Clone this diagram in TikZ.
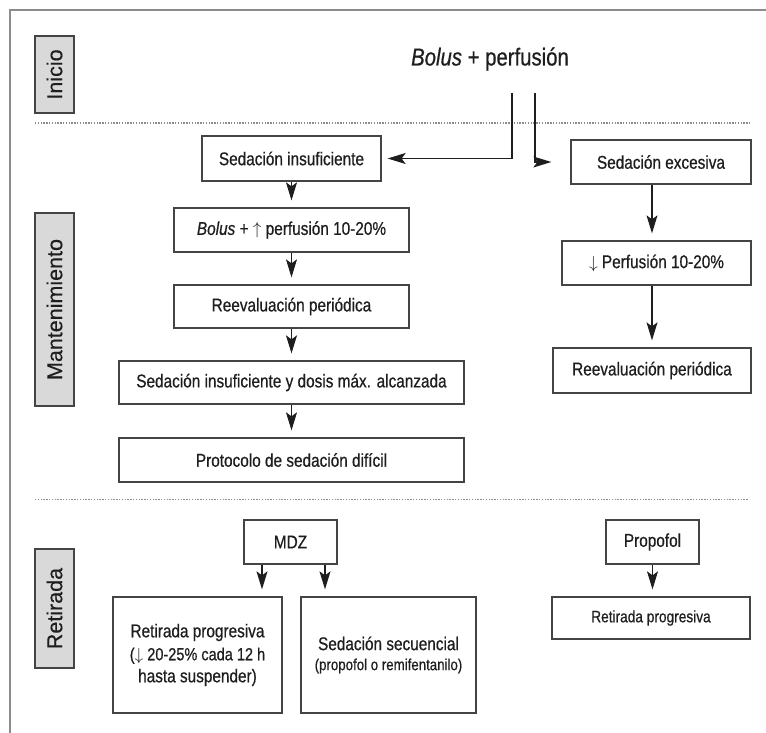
\documentclass[tikz,border=0pt]{standalone}
\usepackage{fontspec}
\setmainfont{Liberation Sans}[FakeStretch=0.83,FakeBold=0.6]
\newfontfamily\tagfont{Liberation Sans}[FakeBold=0.4]
\usetikzlibrary{arrows.meta}
\definecolor{txt}{HTML}{1E1E1E}
\definecolor{boxline}{HTML}{444444}
\definecolor{tagfill}{HTML}{D9D9D9}
\definecolor{frame}{HTML}{8C8C8C}

\begin{document}
\begin{tikzpicture}[x=1pt,y=-1pt,
    box/.style={draw=boxline,line width=1.3pt,inner sep=0pt,align=center,text=txt,
        font=\fontsize{18.5}{22}\selectfont},
    tag/.style={draw=boxline,fill=tagfill,line width=1.2pt,rotate=90,inner sep=0pt,
        minimum height=39pt,text=txt,font=\tagfont\fontsize{21.5}{24}\selectfont},
    arr/.style={-{Stealth[length=18pt,width=11pt,inset=4pt]},line width=1.1pt,draw=txt,shorten >=7pt},
    sep/.style={draw=frame,line width=1.3pt,dash pattern=on 1.3pt off 1.5pt}]
            \useasboundingbox (0,0) rectangle (766,733);
            \draw[frame,line width=1.5pt] (10,733) -- (10,10) -- (766,10);
            % phase tags
            \node[tag,minimum width=77pt] (ini) at (54.5,74.5) {Inicio};
            \node[tag,minimum width=193pt] (man) at (54.5,309.5) {Mantenimiento};
            \node[tag,minimum width=119pt] (ret) at (54.5,608.5) {Retirada};
            \draw[sep] (35,123) -- (750,123);
            \draw[sep] (35,499.5) -- (748,499.5);
            % start
            \node[text=txt,font=\fontsize{24.5}{28}\selectfont] (bol) at (490,59) {\textit{Bolus} + perfusión};
            \coordinate (bl) at (512,93);
            \coordinate (br) at (535,93);
            % maintenance, left
            \node[box,minimum width=179pt,minimum height=45pt] (si) at (291.5,158.5) {Sedación insuficiente};
            \node[box,minimum width=235pt,minimum height=44pt] (bp) at (291.5,230) {\textit{Bolus} + $\uparrow$ perfusión 10-20\%};
            \node[box,minimum width=235pt,minimum height=43pt] (re1) at (291.5,306.5) {Reevaluación periódica};
            \node[box,minimum width=345pt,minimum height=43pt] (sd) at (291.5,382.5) {Sedación insuficiente y dosis máx. alcanzada};
            \node[box,minimum width=345pt,minimum height=44pt] (pd) at (291.5,460) {Protocolo de sedación difícil};
            % maintenance, right
            \node[box,minimum width=180pt,minimum height=44pt] (se) at (661,162) {Sedación excesiva};
            \node[box,minimum width=189pt,minimum height=44pt] (pf) at (656.5,263) {$\downarrow$ Perfusión 10-20\%};
            \node[box,minimum width=198pt,minimum height=45pt] (re2) at (652,370.5) {Reevaluación periódica};
            % withdrawal
            \node[box,minimum width=93pt,minimum height=44pt] (mdz) at (290.5,542) {MDZ};
            \node[box,minimum width=93pt,minimum height=44pt] (pro) at (652.5,542) {Propofol};
            \node[box,minimum width=169pt,minimum height=116pt] (rp1) at (197.5,655) {Retirada progresiva\\[1pt]
                \fontsize{17.5}{21}\selectfont($\downarrow$ 20-25\% cada 12 h\\hasta suspender)};
            \node[box,minimum width=175pt,minimum height=116pt] (ss) at (388.5,655) {Sedación secuencial\\[-2pt]
                \fontsize{16}{18}\selectfont(propofol o remifentanilo)};
            \node[box,minimum width=198pt,minimum height=42pt,font=\fontsize{16.5}{20}\selectfont] (rp2) at (651,618) {Retirada progresiva};
            % connectors
            \draw[arr,shorten >=6pt] (bl) |- (si.east);
            \draw[arr,shorten >=19pt] (br) |- (se.west);
            \draw[arr] (si) -- (bp);
            \draw[arr] (bp) -- (re1);
            \draw[arr] (re1) -- (sd);
            \draw[arr] (sd) -- (pd);
            \draw[arr] (se.south -| re2.north) -- (pf.north -| re2.north);
            \draw[arr] (pf.south -| re2.north) -- (re2.north);
            \draw[arr] ([xshift=-28.5pt]mdz.south) -- ([xshift=-28.5pt]mdz.south |- rp1.north);
            \draw[arr] ([xshift=34.5pt]mdz.south) -- ([xshift=34.5pt]mdz.south |- ss.north);
            \draw[arr] (pro.south) -- (pro.south |- rp2.north);
\end{tikzpicture}
\end{document}
